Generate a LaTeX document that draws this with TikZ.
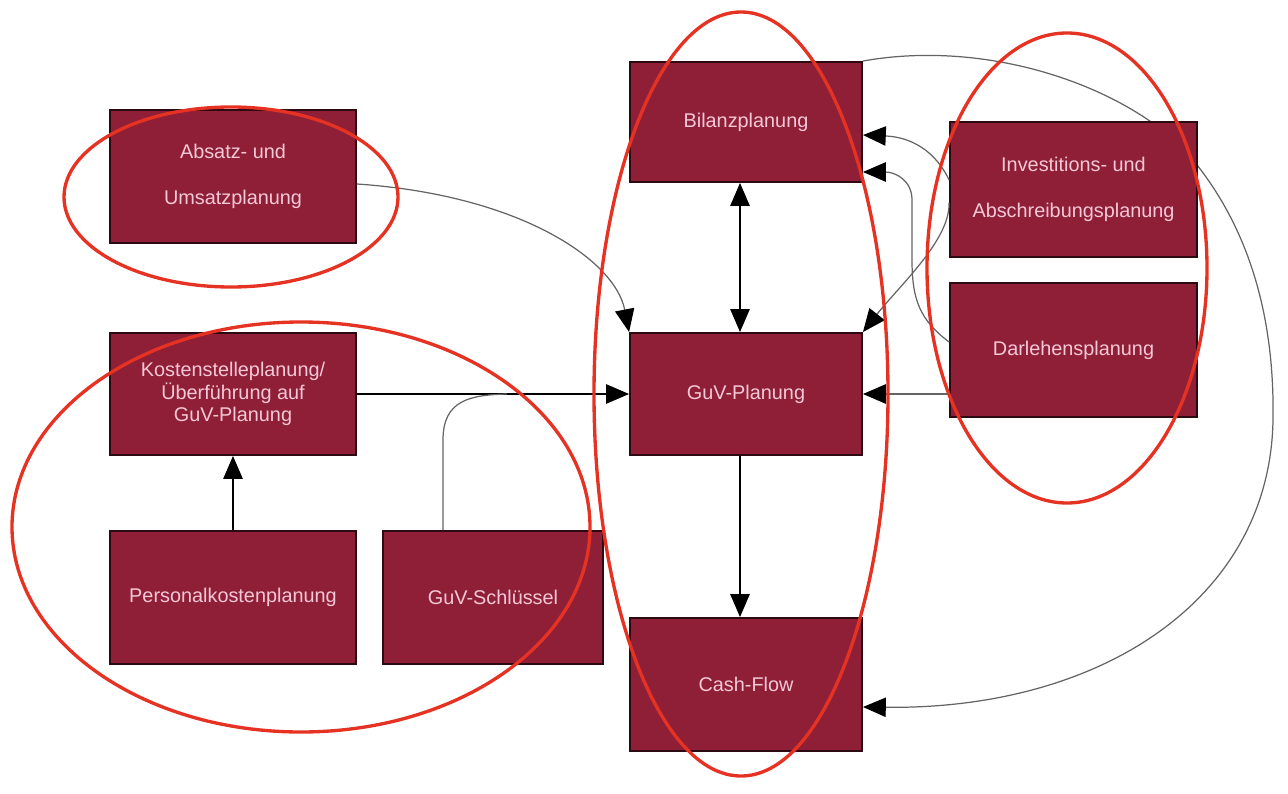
\documentclass[tikz,border=0pt]{standalone}
\usepackage{fontspec}
\setmainfont{Liberation Sans}
\usetikzlibrary{arrows.meta}
\definecolor{boxfill}{RGB}{142,31,54}
\definecolor{boxline}{RGB}{45,10,18}
\definecolor{boxtext}{RGB}{245,200,215}
\definecolor{ringred}{RGB}{230,50,35}
\definecolor{conngray}{RGB}{100,100,100}
\begin{document}
\begin{tikzpicture}[x=0.02cm,y=-0.02cm,
  box/.style={draw=boxline,line width=1.1pt,fill=boxfill,text=boxtext,inner sep=0pt,align=center,
    font=\fontsize{11.3}{13}\selectfont},
  wide/.style={font=\fontsize{11.3}{26}\selectfont},
  tiphead/.tip={Triangle[length=13pt,width=11pt,color=black]},
  tip/.style={-tiphead},
  conn/.style={draw=black,line width=0.7pt,tip},
  curv/.style={draw=conngray,line width=0.7pt},
  ring/.style={draw=ringred,line width=1.9pt}]
\useasboundingbox (0,0) rectangle (1288,794);
\coordinate (merge) at (507,394);
\node[box,minimum width=4.64cm,minimum height=2.4cm] (bil) at (746,122) {Bilanzplanung};
\node[box,wide,minimum width=4.92cm,minimum height=2.66cm] (abs) at (233,176.5) {Absatz- und\\Umsatzplanung};
\node[box,minimum width=4.92cm,minimum height=2.44cm] (kos) at (233,394) {Kostenstelleplanung/\\Überführung auf\\GuV-Planung};
\node[box,minimum width=4.92cm,minimum height=2.66cm] (per) at (233,597.5) {Personalkostenplanung};
\node[box,minimum width=4.4cm,minimum height=2.66cm] (sch) at (493,597.5) {GuV-Schlüssel};
\node[box,minimum width=4.64cm,minimum height=2.44cm] (guv) at (746,394) {GuV-Planung};
\node[box,minimum width=4.64cm,minimum height=2.66cm] (cf) at (746,684.5) {Cash-Flow};
\node[box,minimum width=4.94cm,minimum height=2.68cm] (dar) at (1073.5,350) {Darlehensplanung};
% curve passing behind the Investitions box
\draw[curv,tip] (bil.north east) .. controls (980,40) and (1110,80) .. (1180,145)
  .. controls (1240,210) and (1275,300) .. (1273,420)
  .. controls (1270,600) and (1100,710) .. ([yshift=-0.45cm]cf.east);
\node[box,wide,minimum width=4.94cm,minimum height=2.7cm] (inv) at (1073.5,189.5) {Investitions- und\\Abschreibungsplanung};
\draw[curv,tip] ([yshift=-0.15cm]abs.east) .. controls (520,195) and (615,260) .. (guv.north west);
\draw[conn] (kos.east) -- (guv.west);
\draw[curv] ([xshift=-1cm]sch.north) -- (443,440) .. controls (443,400) and (470,395) .. (merge);
\draw[conn] (per.north) -- (kos.south);
\draw[conn,tiphead-tiphead] ([xshift=-0.12cm]bil.south) -- ([xshift=-0.12cm]guv.north);
\draw[conn] ([xshift=-0.12cm]guv.south) -- ([xshift=-0.12cm]cf.north);
\draw[curv,tip] (dar.west |- guv.west) -- (guv.east);
\draw[curv,tip] ([yshift=0.19cm]inv.west) .. controls (935,150) and (910,137) .. ([yshift=-0.26cm]bil.east);
\draw[curv,tip] ([yshift=-0.27cm]inv.west) .. controls (950,240) and (900,285) .. (guv.north east);
\draw[curv,tip] ([yshift=0.16cm]dar.west) .. controls (920,320) and (912,300) .. (912,260) -- (912,200)
  .. controls (912,180) and (895,172) .. ([yshift=-1cm]bil.east);
% red rings
\draw[ring] (231,197) ellipse [x radius=167,y radius=90];
\draw[ring] (301,527) ellipse [x radius=289,y radius=205];
\draw[ring] (741,394) ellipse [x radius=147,y radius=382];
\draw[ring] (1067,268) ellipse [x radius=140,y radius=235];
\end{tikzpicture}
\end{document}
